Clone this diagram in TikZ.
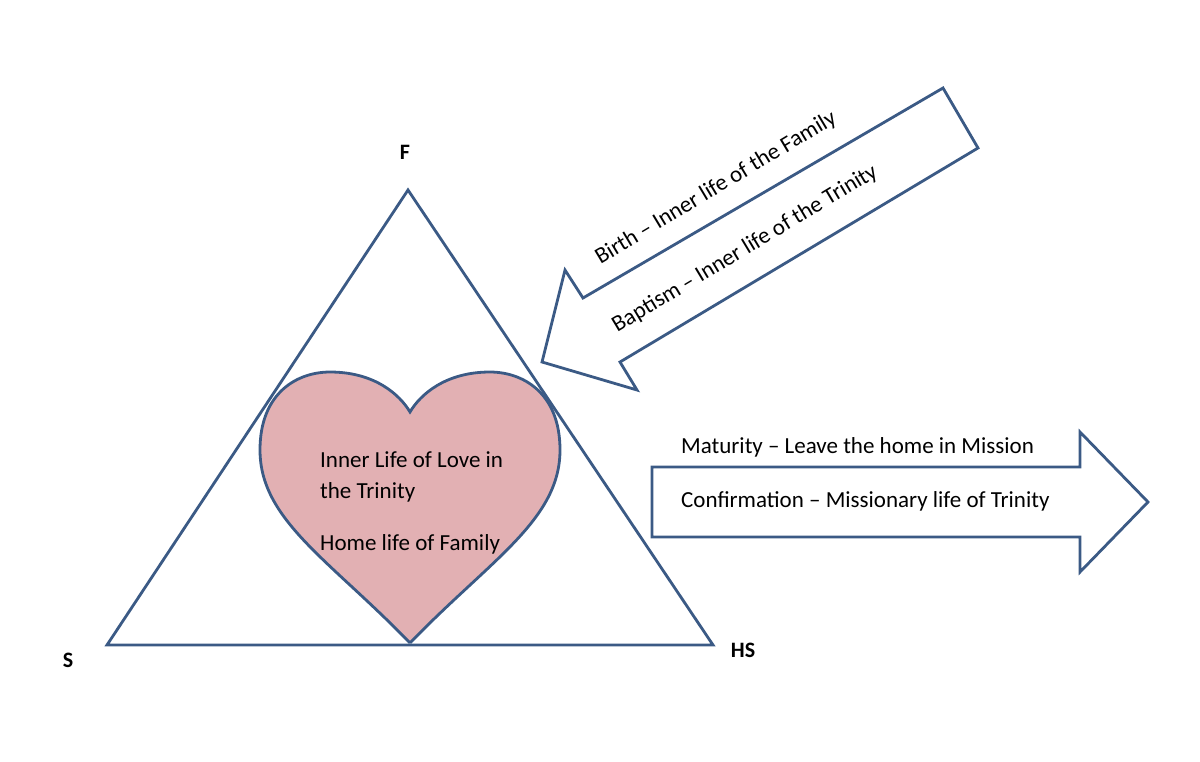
\documentclass[tikz,border=0pt]{standalone}
\usepackage{fontspec}
\setmainfont{Carlito}
\definecolor{ln}{HTML}{3B5A85}
\definecolor{hf}{HTML}{E2B0B3}
\begin{document}
\begin{tikzpicture}[x=1pt,y=-1pt,
 shp/.style={draw=ln,line width=2.8pt,line join=miter},
 txt/.style={font=\fontsize{23}{27}\selectfont,inner sep=0pt},
 lbl/.style={font=\fontsize{22}{26}\selectfont\bfseries,inner sep=0pt}]
\useasboundingbox (0,0) rectangle (1200,761);
\draw[shp] (408,190) -- (713,645) -- (107,645) -- cycle;
\draw[shp,fill=hf] (410,643) .. controls (330,560) and (260,520) .. (260,450)
 .. controls (260,392) and (298,372) .. (330,372)
 .. controls (375,372) and (400,395) .. (410,412)
 .. controls (420,395) and (445,372) .. (490,372)
 .. controls (522,372) and (560,392) .. (560,450)
 .. controls (560,520) and (490,560) .. (410,643);
\draw[shp] (652,467) -- (1080,467) -- (1080,432) -- (1148,502) -- (1080,572) -- (1080,537) -- (652,537) -- cycle;
\draw[shp] (542,362) -- (565,270) -- (583,298) -- (943,88) -- (978,148) -- (620,362) -- (637,390) -- cycle;
\node[lbl] (F) at (405,152) {F};
\node[lbl] (S) at (68,660) {S};
\node[lbl] (HS) at (743,650) {HS};
\node[txt,rotate=31] (b1) at (716,188) {Birth – Inner life of the Family};
\node[txt,rotate=31] (b2) at (745,249) {Baptism – Inner life of the Trinity};
\node[txt,anchor=west] (m1) at (681,447) {Maturity – Leave the home in Mission};
\node[txt,anchor=west] (m2) at (681,501) {Confirmation – Missionary life of Trinity};
\node[txt,anchor=west] (h1) at (320,460) {Inner Life of Love in};
\node[txt,anchor=west] (h2) at (320,492) {the Trinity};
\node[txt,anchor=west] (h3) at (320,544) {Home life of Family};
\end{tikzpicture}
\end{document}
